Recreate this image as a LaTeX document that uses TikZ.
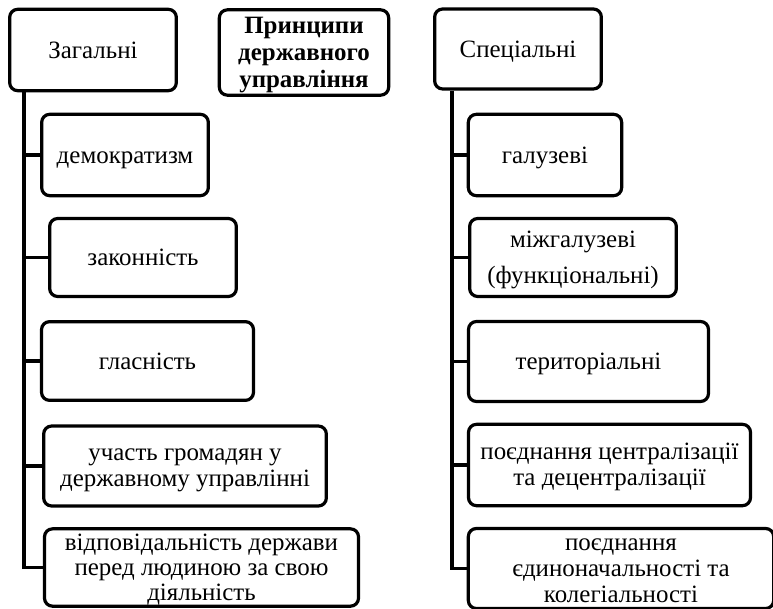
\documentclass[tikz,border=0pt]{standalone}
\usepackage{fontspec}
\setmainfont{Liberation Serif}
\newcommand{\topstrut}{\rule{0pt}{0.891em}}
\newcommand{\botstrut}{\rule[-0.216em]{0pt}{0.216em}}
\newcommand{\boxlines}[1]{\raisebox{-2pt}[\height][\depth]{\begin{tabular}{@{}c@{}}#1\end{tabular}}}

\begin{document}
\begin{tikzpicture}[x=0.75pt,y=0.75pt,yscale=-1,xscale=1,
  box/.style={draw, line width=2.4pt, rounded corners=6pt, align=center, inner sep=0pt,
    font=\fontsize{18.7}{19.5}\selectfont, execute at begin node=\topstrut, execute at end node=\botstrut},
  trunkline/.style={draw, line width=2.4pt}]
\useasboundingbox (0,0) rectangle (773,609);
\clip (0,0) rectangle (773,609);

% Top row
\node [box, minimum width=125pt, minimum height=61pt] (zag) at (93,50) {Загальні};
\node [box, minimum width=127pt, minimum height=64pt, font=\fontsize{18.7}{20}\selectfont\bfseries] (title) at (304,52.5) {\boxlines{Принципи\\державного\\управління}};
\node [box, minimum width=125pt, minimum height=60pt] (spec) at (518,49) {Спеціальні};

% Left column
\node [box, minimum width=125pt, minimum height=61pt] (dem) at (125,155) {демократизм};
\node [box, minimum width=140pt, minimum height=58.5pt] (zak) at (143,257.5) {законність};
\node [box, minimum width=159pt, minimum height=59pt] (hlas) at (147.5,361) {гласність};
\node [box, minimum width=212pt, minimum height=60pt] (uch) at (185,466) {\boxlines{участь громадян у\\державному управлінні}};
\node [box, minimum width=235.5pt, minimum height=58pt, font=\fontsize{18.7}{18.75}\selectfont] (vid) at (201.5,567.5) {\boxlines{відповідальність держави\\перед людиною за свою\\діяльність}};

% Right column
\node [box, minimum width=115pt, minimum height=61pt] (hal) at (545,155) {галузеві};
\node [box, minimum width=155pt, minimum height=58.5pt] (mizh) at (573,257.5) {\boxlines{міжгалузеві\\[7.5pt](функціональні)}};
\node [box, minimum width=180pt, minimum height=60pt] (ter) at (588.5,361.5) {територіальні};
\node [box, minimum width=211.5pt, minimum height=61pt] (cen) at (609.5,465) {\boxlines{поєднання централізації\\та децентралізації}};
\node [box, minimum width=229pt, minimum height=60pt] (yed) at (621,568.5) {\boxlines{поєднання\\єдиноначальності та\\колегіальності}};

% Trunks
\coordinate (ltr) at (24,0);
\coordinate (rtr) at (452,0);
\draw [trunkline] (zag.south -| ltr) |- (vid.west);
\draw [trunkline] (spec.south -| rtr) |- (yed.west);

% Branches
\foreach \n in {dem,zak,hlas,uch}
  \draw [trunkline] (ltr |- \n.west) -- (\n.west);
\foreach \n in {hal,mizh,ter,cen}
  \draw [trunkline] (rtr |- \n.west) -- (\n.west);
\end{tikzpicture}
\end{document}
